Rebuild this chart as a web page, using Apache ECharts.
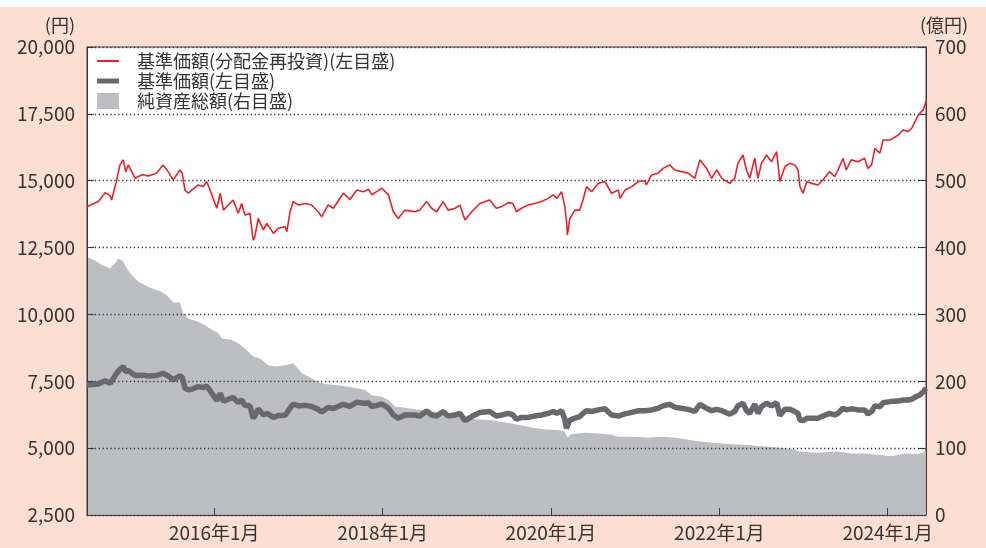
<!DOCTYPE html>
<html>
<head>
<meta charset="utf-8">
<script src="https://cdn.jsdelivr.net/npm/echarts@6/dist/echarts.min.js"></script>
<style>
  html, body { margin: 0; padding: 0; background: #fff; }
  #main { width: 986px; height: 548px; }
</style>
</head>
<body>
<div id="main"></div>
<script>
// 基準価額の日付（左目盛の2本の線で共通）
var navDates = [
  '2014-06-28','2014-08-16','2014-09-15','2014-10-06','2014-10-13','2014-11-04','2014-11-18','2014-12-02','2014-12-13','2014-12-24',
  '2015-01-23','2015-02-21','2015-03-20','2015-04-26','2015-05-24','2015-06-15','2015-07-07','2015-08-05','2015-08-15','2015-08-27',
  '2015-09-11','2015-09-25','2015-10-24','2015-11-15','2015-11-29','2015-12-14','2016-01-12','2016-01-27','2016-02-10','2016-03-02',
  '2016-03-23','2016-04-14','2016-04-29','2016-05-13','2016-06-04','2016-06-18','2016-06-25','2016-07-10','2016-08-01','2016-08-16',
  '2016-09-14','2016-10-05','2016-11-04','2016-11-11','2016-11-25','2016-12-09','2017-01-01','2017-01-30','2017-02-26','2017-03-27',
  '2017-04-11','2017-05-09','2017-06-01','2017-07-14','2017-08-12','2017-09-11','2017-10-09','2017-10-31',
  '2017-11-15','2017-12-28','2018-01-26','2018-02-16','2018-03-09','2018-04-07','2018-05-20','2018-06-11','2018-07-10','2018-08-01',
  '2018-08-23','2018-09-20','2018-10-12','2018-11-11','2018-12-02','2018-12-24','2019-01-22','2019-02-26','2019-04-10','2019-05-09',
  '2019-06-01','2019-06-29','2019-07-20','2019-08-04','2019-08-26','2019-09-24','2019-10-23','2019-11-21','2019-12-20','2020-01-11',
  '2020-01-26','2020-02-16','2020-03-01','2020-03-08','2020-03-12','2020-03-23','2020-04-14','2020-05-05','2020-05-19','2020-06-03',
  '2020-06-25','2020-07-24','2020-08-22','2020-09-20','2020-10-19','2020-10-27','2020-11-17','2020-12-16','2021-01-15',
  '2021-02-12','2021-02-18','2021-03-12','2021-04-10','2021-05-01','2021-05-30','2021-06-21','2021-07-20','2021-08-18','2021-09-16',
  '2021-10-08','2021-11-06','2021-11-28','2021-12-20','2022-01-11','2022-02-15','2022-03-08','2022-03-22','2022-04-13','2022-04-28',
  '2022-05-12','2022-06-03','2022-06-17','2022-07-02','2022-07-24','2022-08-15','2022-09-06','2022-09-20','2022-10-12','2022-11-03',
  '2022-11-24','2022-12-08','2022-12-16','2022-12-30','2023-01-15','2023-02-05','2023-03-04','2023-03-26','2023-04-24','2023-05-16',
  '2023-05-30','2023-06-21','2023-07-05','2023-07-27','2023-08-25','2023-09-23','2023-10-07','2023-10-23','2023-11-06','2023-11-28',
  '2023-12-12','2024-01-11','2024-02-16','2024-03-08','2024-03-30','2024-04-14','2024-05-05','2024-05-19','2024-06-03','2024-06-15'
];
// 基準価額（分配金再投資）
var navReinvest = [
  14030,14220,14550,14440,14280,15030,15590,15780,15340,15590,
  15090,15220,15180,15280,15590,15340,15030,15400,15280,14650,
  14530,14650,14840,14780,14970,14650,13970,14530,13900,14090,
  14280,13780,14150,13720,13780,12780,12900,13590,13160,13400,
  13030,13220,13280,13100,13840,14220,14090,14150,14090,13840,
  13650,14090,13970,14530,14300,14650,14590,14680,
  14470,14720,14470,13840,13590,13900,13840,13900,14220,13970,
  13840,14220,13900,13970,14090,13530,13840,14150,14280,13970,
  14030,14180,14150,13840,13970,14090,14150,14220,14340,14470,
  14340,14590,14030,13530,12970,13590,13900,13900,14280,14780,
  14590,14900,14970,14530,14650,14340,14650,14780,14970,
  15000,14840,15210,15280,15460,15590,15400,15340,15280,15090,
  15780,15460,15090,15400,15090,14900,15090,15650,15960,15400,
  15090,15840,15090,15650,15960,15710,16090,14970,15530,15650,
  15590,15400,14780,14530,14970,14900,14840,15030,15340,15150,
  15400,15840,15400,15780,15710,15840,15460,15590,16210,16030,
  16520,16520,16710,16900,16840,16960,17330,17520,17650,17960
];
// 基準価額
var navBase = [
  7360,7400,7520,7420,7360,7800,7950,8050,7860,7900,
  7720,7730,7700,7720,7800,7700,7550,7700,7650,7240,
  7180,7200,7300,7270,7320,7150,6780,7050,6750,6830,
  6900,6700,6800,6600,6580,6120,6200,6470,6240,6300,
  6150,6220,6230,6180,6500,6650,6580,6600,6560,6450,
  6350,6520,6480,6640,6560,6720,6680,6690,
  6550,6650,6490,6240,6120,6240,6240,6200,6390,6240,
  6200,6370,6200,6240,6300,6030,6180,6330,6370,6200,
  6240,6300,6240,6080,6150,6150,6200,6240,6300,6370,
  6300,6400,6080,5740,5680,6050,6120,6180,6300,6400,
  6370,6430,6470,6240,6200,6150,6280,6340,6400,
  6400,6330,6430,6490,6580,6640,6530,6490,6450,6370,
  6640,6490,6400,6450,6400,6270,6370,6580,6680,6400,
  6300,6640,6300,6550,6680,6580,6700,6220,6450,6450,
  6370,6300,6050,6030,6120,6120,6120,6200,6300,6240,
  6300,6490,6430,6470,6430,6430,6280,6370,6580,6550,
  6700,6740,6760,6800,6800,6830,6930,6990,7110,7240
];
// 純資産総額（億円）
var assetDates = [
  '2014-06-28','2014-07-25','2014-09-01','2014-10-06','2014-10-28','2014-11-11','2014-12-02','2014-12-17','2015-01-08','2015-02-06',
  '2015-03-05','2015-04-04','2015-05-17','2015-06-08','2015-07-07','2015-08-05','2015-08-19','2015-09-11','2015-10-24','2015-11-22',
  '2015-12-21','2016-01-19','2016-02-03','2016-03-16','2016-04-14','2016-05-13','2016-06-18','2016-07-17','2016-08-23','2016-09-21',
  '2016-11-04','2016-12-09','2017-01-16','2017-02-12','2017-03-27','2017-04-25','2017-06-22','2017-08-19','2017-10-16','2017-11-15',
  '2017-12-28','2018-01-26','2018-02-23','2018-03-23','2018-05-20','2018-08-01','2018-10-12','2018-12-24','2019-02-19','2019-04-17',
  '2019-05-16','2019-07-13','2019-08-11','2019-10-09','2019-12-05','2020-02-02','2020-03-01','2020-03-12','2020-03-30','2020-05-26',
  '2020-07-24','2020-09-20','2020-10-19','2020-12-16','2021-02-25','2021-05-08','2021-07-05','2021-09-16','2021-11-28','2022-02-22',
  '2022-04-20','2022-07-02','2022-09-13','2022-11-24','2022-12-08','2023-03-04','2023-05-30','2023-07-27','2023-09-23','2023-11-20',
  '2024-01-18','2024-03-15','2024-05-11','2024-06-15'
];
var netAssets = [
  386,382,374,369,376,384,379,369,359,349,
  344,339,334,329,318,318,302,294,289,284,
  277,272,264,262,257,249,237,234,224,222,
  224,227,212,207,199,196,194,191,187,179,
  177,172,162,161,158,155,151,146,143,142,
  140,137,135,131,128,127,125,116,121,123,
  122,120,117,117,116,117,115,111,108,106,
  105,103,101,98,95,93,95,92,92,90,
  88,92,91,95
];
var xTicks = ['2016-01-01','2018-01-01','2020-01-01','2022-01-01','2024-01-01'];
var xMin = '2014-06-28', xMax = '2024-06-15';

var seriesNames = ['基準価額(分配金再投資)(左目盛)', '基準価額(左目盛)', '純資産総額(右目盛)'];
var font = '"Noto Sans CJK JP", "Noto Sans", sans-serif';

// 'YYYY-MM-DD' -> timestamp
function ts(s) {
    var p = s.split('-');
    return new Date(+p[0], +p[1] - 1, +p[2]).getTime();
}

var myChart = echarts.init(document.getElementById('main'));

option = {
    animation: false,
    backgroundColor: '#fcdfd2',
    textStyle: { fontFamily: font, color: '#333' },
    graphic: [
        { type: 'rect', left: 0, top: 0, shape: { width: 986, height: 7 }, style: { fill: '#fff' }, z: -10 },
        { type: 'text', x: 75, y: 25, style: { text: '(円)', align: 'right', verticalAlign: 'middle', font: '18px ' + font, fill: '#333' } },
        { type: 'text', x: 944, y: 25, style: { text: '(億円)', align: 'center', verticalAlign: 'middle', font: '18px ' + font, fill: '#333' } }
    ],
    grid: {
        left: 87, right: 60, top: 47, bottom: 33,
        show: true, backgroundColor: '#fff', borderColor: '#3a3a3a', borderWidth: 1
    },
    legend: {
        orient: 'vertical',
        left: 92, top: 47,
        itemWidth: 22, itemHeight: 16, itemGap: 2,
        symbolKeepAspect: true,
        selectedMode: false,
        textStyle: { fontSize: 18, color: '#333', fontFamily: font, padding: [0, 0, 0, 13] },
        data: [
            { name: seriesNames[0], icon: 'path://M0,0H22V2H0Z' },
            { name: seriesNames[1], icon: 'path://M0,0H22V5H0Z' },
            { name: seriesNames[2], icon: 'rect' }
        ]
    },
    xAxis: {
        type: 'value',
        min: ts(xMin),
        max: ts(xMax),
        z: 3,
        axisLine: { lineStyle: { color: '#3a3a3a', width: 1 } },
        axisTick: { show: true, inside: true, length: 7, customValues: xTicks.map(ts), lineStyle: { color: '#3a3a3a' } },
        axisLabel: {
            customValues: xTicks.map(ts),
            fontSize: 19, color: '#333', margin: 8,
            formatter: function (v) {
                var d = new Date(v);
                return d.getFullYear() + '年' + (d.getMonth() + 1) + '月';
            }
        },
        splitLine: { show: false }
    },
    yAxis: [
        {
            type: 'value',
            min: 2500, max: 20000, interval: 2500,
            z: 1.5,
            axisLine: { show: true, lineStyle: { color: '#3a3a3a' } },
            axisTick: { show: true, inside: true, length: 7, lineStyle: { color: '#3a3a3a' } },
            axisLabel: {
                fontSize: 19, color: '#333', margin: 12,
                formatter: function (v) { return v.toLocaleString('en-US'); }
            },
            splitLine: { show: true, lineStyle: { color: '#333', width: 1.3, type: [1.3, 2.6] } }
        },
        {
            type: 'value',
            min: 0, max: 700, interval: 100,
            z: 1.5,
            axisLine: { show: true, lineStyle: { color: '#3a3a3a' } },
            axisTick: { show: true, inside: true, length: 7, lineStyle: { color: '#3a3a3a' } },
            axisLabel: { fontSize: 19, color: '#333', margin: 9 },
            splitLine: { show: false }
        }
    ],
    series: [
        {
            name: seriesNames[0],
            type: 'line',
            symbol: 'none',
            z: 4,
            color: '#e8212a',
            lineStyle: { color: '#e8212a', width: 1.6 },
            data: navDates.map(function (d, i) { return [ts(d), navReinvest[i]]; })
        },
        {
            name: seriesNames[1],
            type: 'line',
            symbol: 'none',
            z: 3,
            color: '#69696d',
            lineStyle: { color: '#69696d', width: 5.5 },
            data: navDates.map(function (d, i) { return [ts(d), navBase[i]]; })
        },
        {
            name: seriesNames[2],
            type: 'line',
            yAxisIndex: 1,
            symbol: 'none',
            z: 1,
            color: '#bdbec2',
            itemStyle: { color: '#bdbec2' },
            lineStyle: { width: 0 },
            areaStyle: { color: '#bdbec2', opacity: 1 },
            data: assetDates.map(function (d, i) { return [ts(d), netAssets[i]]; })
        }
    ]
};

myChart.setOption(option);
</script>
</body>
</html>
